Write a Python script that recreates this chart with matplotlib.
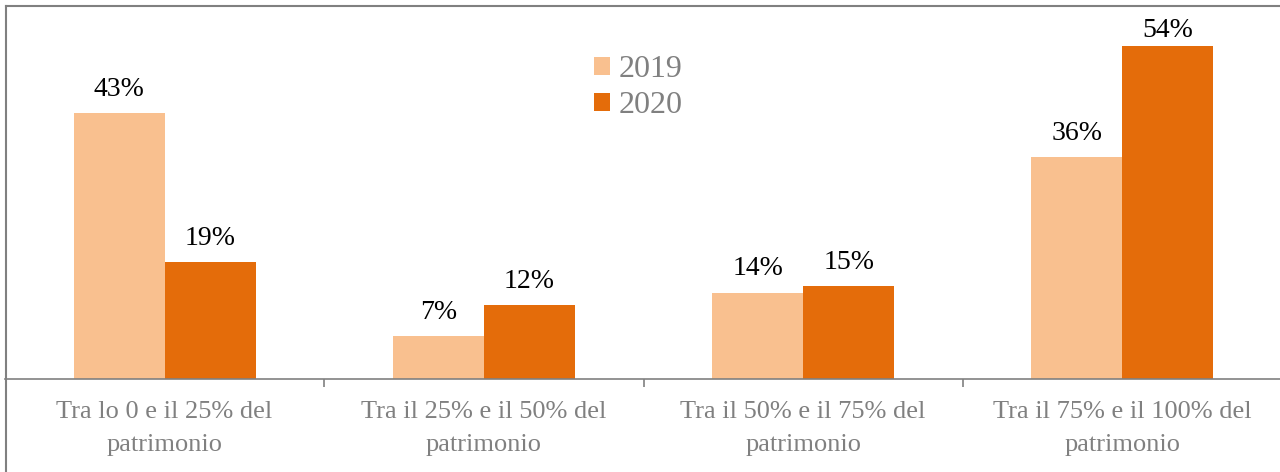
import matplotlib
matplotlib.use("Agg")
import matplotlib.pyplot as plt
from matplotlib.patches import Patch
from matplotlib.lines import Line2D
import numpy as np

categories = ["Tra lo 0 e il 25% del\npatrimonio",
              "Tra il 25% e il 50% del\npatrimonio",
              "Tra il 50% e il 75% del\npatrimonio",
              "Tra il 75% e il 100% del\npatrimonio"]
series_names = ["2019", "2020"]
values_2019 = [43, 7, 14, 36]
values_2020 = [19, 12, 15, 54]

colors = ["#F9C08F", "#E46C0A"]
plt.rcParams['font.family'] = ['Liberation Serif', 'DejaVu Serif']

W, H = 1280, 472
fig = plt.figure(figsize=(W/100, H/100), dpi=100)
ax = fig.add_axes([5/W, (H-379)/H, 1277/W, 373/H])

x = np.arange(len(categories))
bw = 0.285
b1 = ax.bar(x - bw/2, values_2019, bw, color=colors[0], label=series_names[0])
b2 = ax.bar(x + bw/2, values_2020, bw, color=colors[1], label=series_names[1])

ymax = 60.4
for bars, vals in ((b1, values_2019), (b2, values_2020)):
    for r, v in zip(bars, vals):
        # keep labels inside the plot area (the top label is pushed down)
        room_pts = (ymax - v) / ymax * 373 * 0.72 - 27
        off = max(2, min(8, room_pts))
        ax.annotate(f"{v}%", (r.get_x() + r.get_width()/2, r.get_height()),
                    xytext=(0, off), textcoords="offset points",
                    ha="center", va="bottom", fontsize=20, color="black")

ax.set_xlim(-0.5, len(categories) - 0.5)
ax.set_ylim(0, ymax)
ax.set_yticks([])
for s in ("top", "right", "left"):
    ax.spines[s].set_visible(False)
ax.spines["bottom"].set_color("#808080")
ax.spines["bottom"].set_linewidth(1.2)

ax.set_xticks(x)
ax.set_xticklabels(categories, fontsize=19, color="#808080", linespacing=1.65)
ax.tick_params(axis="x", which="major", length=0, pad=16)
ax.set_xticks(np.arange(len(categories) - 1) + 0.5, minor=True)
ax.tick_params(axis="x", which="minor", length=6, color="#808080", width=1.2)

handles = [Patch(facecolor=c, label=n) for c, n in zip(colors, series_names)]
leg = fig.legend(handles=handles, loc="upper left",
                 bbox_to_anchor=(578/W, 1 - 39/H), frameon=False,
                 fontsize=23, labelcolor="#808080",
                 handlelength=0.5, handleheight=0.5, handletextpad=0.28,
                 labelspacing=0.22, borderpad=0)

fig.add_artist(Line2D([6/W, 1.0], [1 - 6/H, 1 - 6/H], transform=fig.transFigure,
                      color="#808080", linewidth=1.5))
fig.add_artist(Line2D([6/W, 6/W], [0, 1 - 6/H], transform=fig.transFigure,
                      color="#808080", linewidth=1.5))

fig.savefig("out.png", dpi=100)
